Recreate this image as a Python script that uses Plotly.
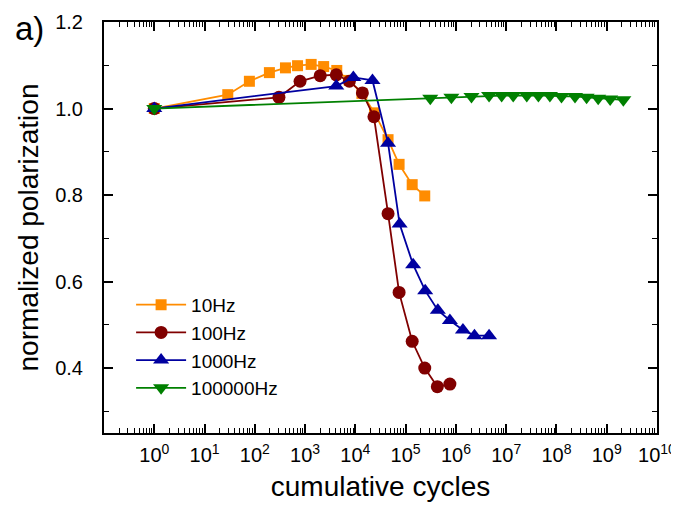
import plotly.graph_objects as go

# ---- data ----
cycles_10hz = [1, 29, 78, 195, 407, 708, 1320, 2340, 4270, 7590, 13500, 24000,
               44700, 74100, 135000, 240000]
pol_10hz = [1.0, 1.032, 1.063, 1.083, 1.094, 1.099, 1.102, 1.097, 1.088, 1.065,
            1.035, 0.99, 0.928, 0.871, 0.824, 0.798]

cycles_100hz = [1, 302, 794, 2000, 4170, 7590, 13800, 23400, 44700, 74100,
                135000, 240000, 427000, 759000]
pol_100hz = [1.0, 1.026, 1.063, 1.076, 1.078, 1.063, 1.036, 0.981, 0.757, 0.575,
             0.462, 0.400, 0.357, 0.363]

cycles_1000hz = [1, 4170, 9120, 21900, 44700, 75900, 141000, 245000, 437000,
                 759000, 1380000, 2340000, 4570000]
pol_1000hz = [1.0, 1.052, 1.072, 1.065, 0.920, 0.733, 0.639, 0.579, 0.534,
              0.510, 0.488, 0.475, 0.475]

cycles_100000hz = [1, 309000, 813000, 2040000, 4570000, 8130000, 13800000,
                   25700000, 43700000, 74100000, 126000000, 234000000,
                   398000000, 676000000, 1170000000, 2140000000]
pol_100000hz = [1.0, 1.024, 1.026, 1.028, 1.03, 1.03, 1.03, 1.03, 1.03, 1.03,
                1.028, 1.028, 1.026, 1.024, 1.022, 1.02]

x_tickvals = [10 ** k for k in range(0, 11)]
x_ticktext = ["10<sup>%d</sup>" % k for k in range(0, 11)]
y_tickvals = [0.4, 0.6, 0.8, 1.0, 1.2]
y_ticktext = ["0.4", "0.6", "0.8", "1.0", "1.2"]

FONT = "Arial, Liberation Sans, Helvetica, sans-serif"

series = [
    ("10Hz", cycles_10hz, pol_10hz, "#FF8C00", "square", 11),
    ("100Hz", cycles_100hz, pol_100hz, "#800000", "circle", 13),
    ("1000Hz", cycles_1000hz, pol_1000hz, "#0000A0", "triangle-up", 14),
    ("100000Hz", cycles_100000hz, pol_100000hz, "#008000", "triangle-down", 14),
]

fig = go.Figure()
for name, xs, ys, col, sym, sz in series:
    fig.add_trace(go.Scatter(
        x=xs, y=ys, name=name, mode="lines+markers",
        line=dict(color=col, width=1.8),
        marker=dict(symbol=sym, size=sz, color=col, line=dict(width=0)),
    ))

axis_common = dict(
    showline=True, linecolor="black", linewidth=2, mirror="ticks",
    ticks="inside", ticklen=9, tickwidth=1.5, tickcolor="black",
    showgrid=False, zeroline=False, automargin=False,
    tickfont=dict(family=FONT, size=20, color="black"),
)

fig.update_xaxes(
    type="log", range=[-1, 10],
    tickmode="array", tickvals=x_tickvals, ticktext=x_ticktext,
    ticklabelstandoff=3,
    minor=dict(ticks="inside", ticklen=5, tickwidth=1.2, tickcolor="black",
               dtick="D1", showgrid=False),
    title=dict(text="cumulative cycles", font=dict(family=FONT, size=28, color="black"),
               standoff=11),
    **axis_common,
)
fig.update_yaxes(
    range=[0.25, 1.2],
    tickmode="array", tickvals=y_tickvals, ticktext=y_ticktext,
    ticklabelstandoff=15,
    minor=dict(ticks="inside", ticklen=5, tickwidth=1.2, tickcolor="black",
               tickvals=[0.3, 0.5, 0.7, 0.9, 1.1], showgrid=False),
    title=dict(text="normalized polarization", font=dict(family=FONT, size=28, color="black"),
               standoff=8),
    **axis_common,
)

fig.add_annotation(
    text="a)", xref="paper", yref="paper", x=-0.135, y=0.983,
    xanchor="center", yanchor="middle", showarrow=False,
    font=dict(family=FONT, size=33, color="black"),
)

# the page body adds an 8px margin, so the figure is 8px smaller and shifted
fig.update_layout(
    width=671, height=500,
    margin=dict(l=96, r=22, t=14, b=75),
    paper_bgcolor="white", plot_bgcolor="white",
    font=dict(family=FONT, color="black"),
    legend=dict(
        x=0.049, y=0.358, xanchor="left", yanchor="top",
        bgcolor="rgba(0,0,0,0)", borderwidth=0,
        font=dict(family=FONT, size=19, color="black"),
        itemwidth=50, tracegroupgap=0,
    ),
    showlegend=True,
)

fig.write_html("out.html")
